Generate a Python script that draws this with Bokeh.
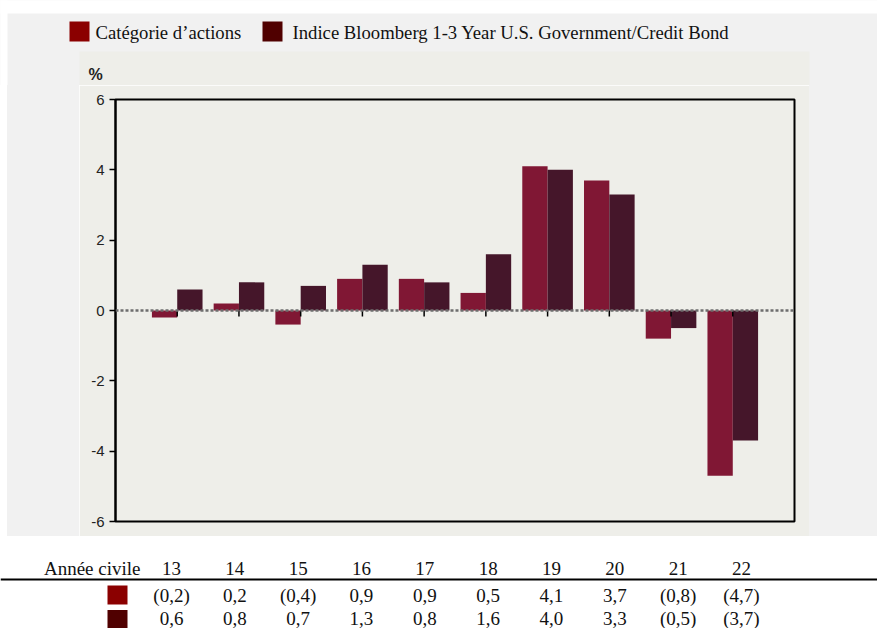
from bokeh.plotting import figure
from bokeh.layouts import column, row
from bokeh.models import (Range1d, FixedTicker, Span, BoxAnnotation, Spacer)
from bokeh.core.properties import value
from bokeh.embed import file_html
from bokeh.resources import INLINE

# ---- data ----
years = ["13", "14", "15", "16", "17", "18", "19", "20", "21", "22"]
categorie = [-0.2, 0.2, -0.4, 0.9, 0.9, 0.5, 4.1, 3.7, -0.8, -4.7]
indice = [0.6, 0.8, 0.7, 1.3, 0.8, 1.6, 4.0, 3.3, -0.5, -3.7]
series_names = ["Catégorie d\u2019actions",
                "Indice Bloomberg 1-3 Year U.S. Government/Credit Bond"]
y_ticks = [-6, -4, -2, 0, 2, 4, 6]
y_unit = "%"
row_label = "Année civile"

bar_colors = ["#801734", "#45162a"]
key_colors = ["#8b0000", "#500000"]
OUTER = "#f1f1f1"
INNER = "#eeeee9"
SERIF = "Liberation Serif"
SANS = "Liberation Sans"

idx = list(range(len(years)))


def fmt(v):
    s = f"{abs(v):.1f}".replace(".", ",")
    return f"({s})" if v < 0 else s


def no_align(fig):
    if "frame_align" in fig.properties():
        fig.frame_align = False
    return fig


def bare(fig):
    fig.outline_line_color = None
    fig.xgrid.visible = False
    fig.ygrid.visible = False
    return fig


PAGE_W = 877
HEAD_H = 85
MID_H = 451
TAB_H = 92
PANEL_L, PANEL_R = 79, 809

# ---- header (legend + unit) ----
h = figure(width=PAGE_W, height=HEAD_H, x_range=Range1d(0, PAGE_W),
           y_range=Range1d(HEAD_H, 0), x_axis_type=None, y_axis_type=None,
           toolbar_location=None, output_backend="svg",
           min_border_left=0, min_border_right=0, min_border_top=0, min_border_bottom=0)
bare(no_align(h))
h.background_fill_color = OUTER
h.border_fill_color = OUTER
for l, r, tp, b, c in [(-2, PAGE_W + 2, -2, 13, "white"), (-2, 7, -2, HEAD_H + 2, "white"),
                       (PANEL_L, PANEL_R, 51, HEAD_H + 2, INNER)]:
    h.add_layout(BoxAnnotation(left=l, right=r, top=tp, bottom=b, fill_color=c,
                               fill_alpha=1, line_alpha=0, level="underlay"))

key_x = [79, 272]        # centres of the legend keys (px)
label_x = [95, 292]      # left edges of the legend labels (px)
key_y = 31
h.rect(x=key_x, y=[key_y] * 2, width=20, height=20, width_units="screen",
       height_units="screen", color=key_colors, line_alpha=0)
h.text(x=label_x, y=[key_y + 1] * 2, text=series_names, text_align="left",
       text_baseline="middle", text_font=value(SERIF), text_font_size="18.7px",
       text_color="#111111")
h.text(x=[95], y=[74], text=[y_unit], text_align="center", text_baseline="middle",
       text_font=value(SANS), text_font_size="16px", text_font_style="bold",
       text_color="#222222")

# ---- main chart ----
ML, MR, MT, MB = 36, 15, 14, 15
CW = PANEL_R - PANEL_L
p = figure(width=CW, height=MID_H, x_range=Range1d(-1, len(years)),
           y_range=Range1d(y_ticks[0], y_ticks[-1]),
           x_axis_type=None, toolbar_location=None, output_backend="svg",
           min_border_left=ML, min_border_right=MR, min_border_top=MT,
           min_border_bottom=MB)
no_align(p)
p.border_fill_color = INNER
p.background_fill_color = INNER
p.outline_line_color = "black"
p.outline_line_width = 2
p.xgrid.visible = False
p.ygrid.visible = False

frame_h = MID_H - MT - MB
px_per_unit_y = frame_h / (y_ticks[-1] - y_ticks[0])

p.vbar(x=[i - 0.205 for i in idx], width=0.41, top=categorie, bottom=0,
       color=bar_colors[0], line_alpha=0)
p.vbar(x=[i + 0.205 for i in idx], width=0.41, top=indice, bottom=0,
       color=bar_colors[1], line_alpha=0)
p.segment(x0=idx, y0=[0] * len(idx), x1=idx, y1=[-6 / px_per_unit_y] * len(idx),
          line_color="black", line_width=1.5)
p.add_layout(Span(location=0, dimension="width", line_color="#6e6e6e",
                  line_width=2.5, line_dash="3 2"))

ax = p.yaxis[0]
ax.ticker = FixedTicker(ticks=y_ticks)
ax.major_label_overrides = {t: str(t) for t in y_ticks}
ax.axis_line_color = "black"
ax.axis_line_width = 2
ax.major_tick_line_color = "black"
ax.major_tick_line_width = 1.5
ax.major_tick_out = 6
ax.major_tick_in = 0
ax.minor_tick_line_color = None
ax.major_label_standoff = 5
ax.major_label_text_font = SANS
ax.major_label_text_font_size = "15px"
ax.major_label_text_color = "#222222"

left_sp = Spacer(width=PANEL_L, height=MID_H,
                 styles={"background": f"linear-gradient(to right, #ffffff 7px, {OUTER} 7px)"})
right_sp = Spacer(width=PAGE_W - PANEL_R, height=MID_H,
                  styles={"background-color": OUTER})

# ---- table ----
col0 = 171
colstep = 63.33
t = figure(width=PAGE_W, height=TAB_H,
           x_range=Range1d(-col0 / colstep, (PAGE_W - col0) / colstep),
           y_range=Range1d(TAB_H, 0), x_axis_type=None, y_axis_type=None,
           toolbar_location=None, output_backend="svg",
           min_border_left=0, min_border_right=0, min_border_top=0, min_border_bottom=0)
bare(no_align(t))
t.background_fill_color = "white"
t.border_fill_color = "white"


def tx(px):
    return (px - col0) / colstep


hy, ly, r1y, r2y = 32, 43, 59, 82
common = dict(text_font=value(SERIF), text_font_size="19px", text_color="#111111",
              text_baseline="middle")
t.text(x=[tx(140)], y=[hy], text=[row_label], text_align="right", **common)
t.text(x=idx, y=[hy] * len(idx), text=years, text_align="center", **common)
t.text(x=idx, y=[r1y] * len(idx), text=[fmt(v) for v in categorie],
       text_align="center", **common)
t.text(x=idx, y=[r2y] * len(idx), text=[fmt(v) for v in indice],
       text_align="center", **common)
t.add_layout(Span(location=ly, dimension="width", line_color="black", line_width=2))
t.rect(x=[tx(117), tx(117)], y=[r1y - 0.5, r2y + 1], width=20, height=19,
       width_units="screen", height_units="screen", color=key_colors, line_alpha=0)

layout = column(h, row(left_sp, p, right_sp, spacing=0), t, spacing=0)
open("out.html", "w").write(file_html(layout, INLINE))
